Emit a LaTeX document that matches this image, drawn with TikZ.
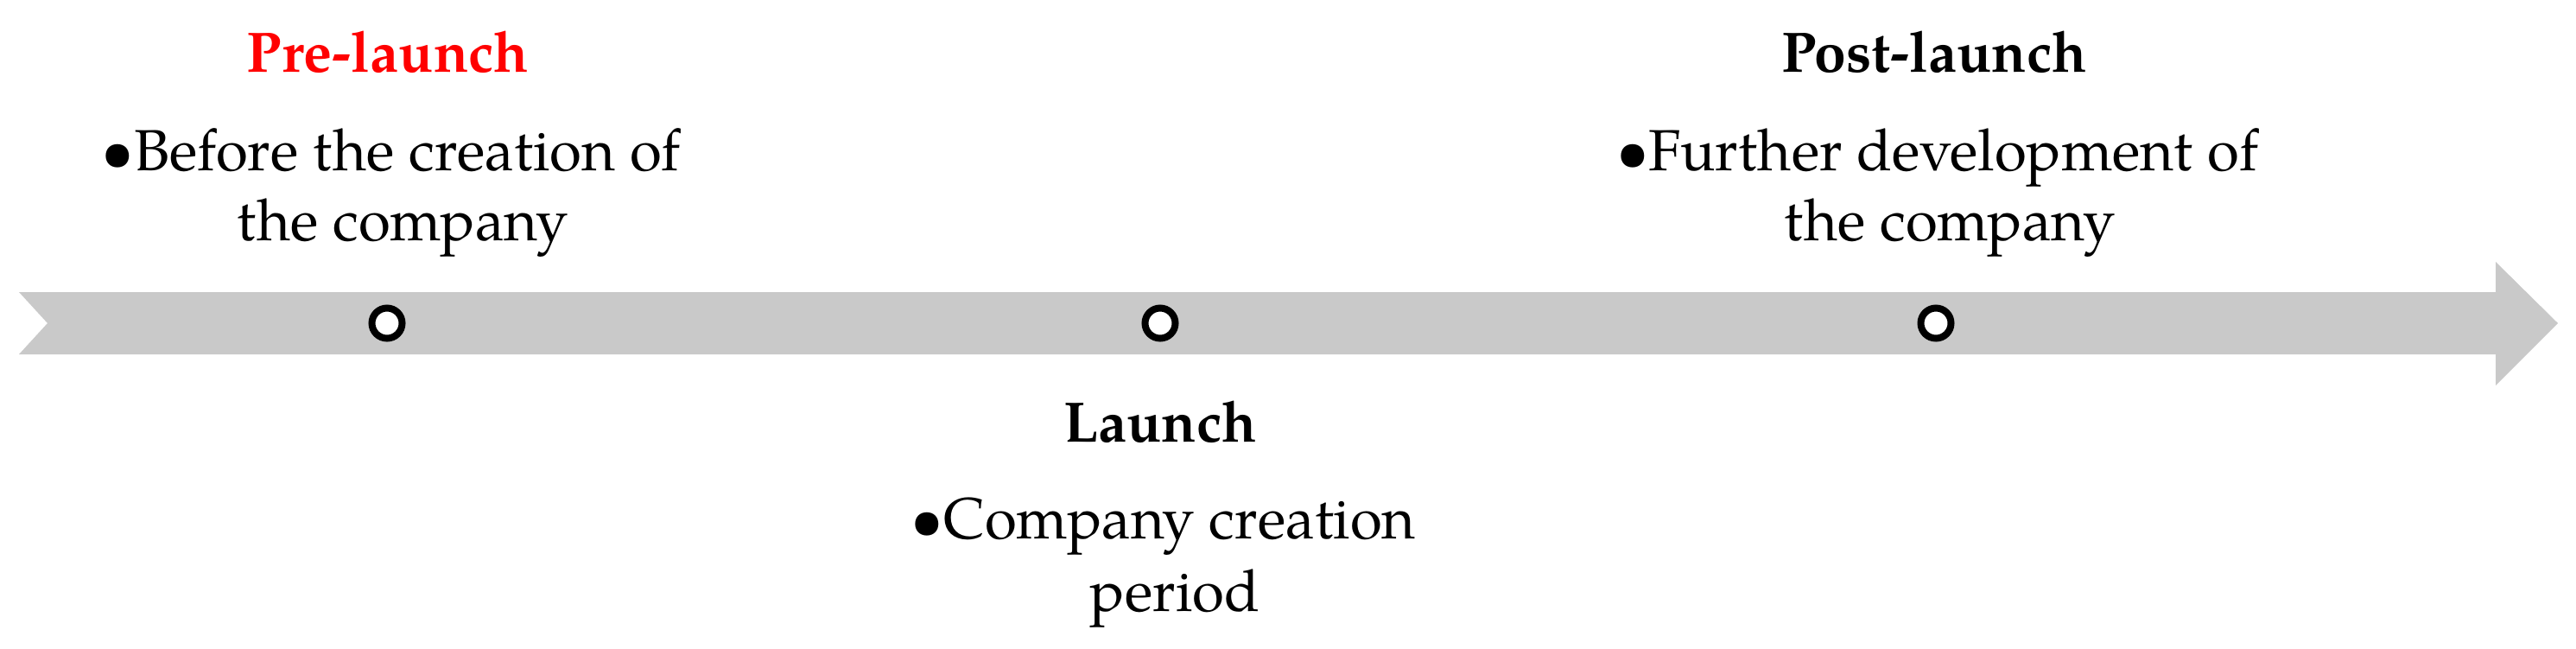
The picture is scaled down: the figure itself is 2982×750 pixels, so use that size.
\documentclass[tikz,border=0pt]{standalone}
\usepackage{fontspec}
\setmainfont{texgyrepagella}[Extension=.otf,UprightFont=*-regular,BoldFont=*-bold,ItalicFont=*-italic,BoldItalicFont=*-bolditalic]
\definecolor{bandgray}{RGB}{201,201,201}
\definecolor{prered}{RGB}{255,0,0}
\tikzset{
  txt/.style={anchor=base,inner sep=0pt,font=\fontsize{33.6}{40.5}\selectfont},
  head/.style={txt,font=\fontsize{33}{40.5}\selectfont\bfseries},
  dot/.style={circle,draw=black,fill=white,line width=4pt,minimum size=17.5pt,inner sep=0pt},
  band/.style={fill=bandgray,draw=none}
}
\begin{document}
\begin{tikzpicture}[x=0.5pt,y=-0.5pt]
\useasboundingbox (0,0) rectangle (2982,750);
% timeline band
\path[band] (22,338) -- (2889,338) -- (2889,303) -- (2961,374) -- (2889,446) -- (2889,410) -- (22,410) -- (55,374) -- cycle;
% milestones
\node[dot] (c1) at (448,374) {};
\node[dot] (c2) at (1343,374) {};
\node[dot] (c3) at (2241,374) {};
% pre-launch
\node[head,text=prered] (h1) at (449,83) {Pre-launch};
\node[txt] (t1a) at (453,197) {•Before the creation of};
\node[txt] (t1b) at (466,278) {the company};
% launch
\node[head] (h2) at (1343,511) {Launch};
\node[txt] (t2a) at (1347,623) {•Company creation};
\node[txt] (t2b) at (1360,707) {period};
% post-launch
\node[head] (h3) at (2239,83) {Post-launch};
\node[txt] (t3a) at (2243,197) {•Further development of};
\node[txt] (t3b) at (2257,278) {the company};
\end{tikzpicture}
\end{document}
